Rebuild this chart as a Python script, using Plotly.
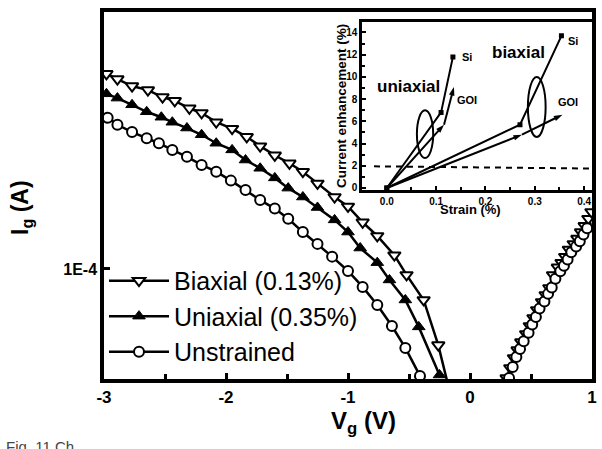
import plotly.graph_objects as go

# ---------------- main panel data: gate voltage (V) vs gate current (A) ----------------
biax_v = [-2.98, -2.89, -2.77, -2.64, -2.52, -2.42, -2.30, -2.20, -2.08, -1.95, -1.83, -1.72,
          -1.60, -1.48, -1.37, -1.25, -1.11, -1.00, -0.88, -0.76, -0.62, -0.52, -0.38, -0.26, -0.18]
biax_i = [3.40e-4, 3.29e-4, 3.15e-4, 3.07e-4, 2.94e-4, 2.87e-4, 2.74e-4, 2.66e-4, 2.51e-4, 2.41e-4,
          2.29e-4, 2.16e-4, 2.04e-4, 1.94e-4, 1.84e-4, 1.71e-4, 1.57e-4, 1.48e-4, 1.34e-4, 1.23e-4,
          1.09e-4, 9.63e-5, 8.23e-5, 6.20e-5, 4.83e-5]
biax_pos_v = [0.30, 0.33, 0.36, 0.39, 0.42, 0.46, 0.49, 0.52, 0.55, 0.59, 0.62, 0.65, 0.68, 0.72,
              0.75, 0.78, 0.81, 0.85, 0.88, 0.91, 0.94, 0.97, 0.995]
biax_pos_i = [5.04e-5, 5.37e-5, 5.72e-5, 6.01e-5, 6.32e-5, 6.65e-5, 6.99e-5, 7.35e-5, 7.73e-5,
              8.13e-5, 8.49e-5, 8.87e-5, 9.63e-5, 1.01e-4, 1.04e-4, 1.08e-4, 1.13e-4, 1.17e-4,
              1.21e-4, 1.26e-4, 1.31e-4, 1.37e-4, 1.43e-4]

uni_v = [-2.98, -2.89, -2.77, -2.65, -2.53, -2.44, -2.32, -2.20, -2.08, -1.95, -1.84, -1.72,
         -1.60, -1.49, -1.37, -1.25, -1.11, -1.00, -0.90, -0.76, -0.66, -0.53, -0.42, -0.25]
uni_i = [3.00e-4, 2.92e-4, 2.80e-4, 2.68e-4, 2.59e-4, 2.51e-4, 2.42e-4, 2.32e-4, 2.20e-4, 2.11e-4,
         1.98e-4, 1.88e-4, 1.77e-4, 1.66e-4, 1.57e-4, 1.47e-4, 1.36e-4, 1.26e-4, 1.14e-4, 1.04e-4,
         9.33e-5, 8.23e-5, 6.95e-5, 5.14e-5]

unst_v = [-2.97, -2.89, -2.77, -2.65, -2.55, -2.44, -2.32, -2.20, -2.08, -1.96, -1.84, -1.72,
          -1.60, -1.49, -1.37, -1.25, -1.13, -1.00, -0.88, -0.76, -0.64, -0.53, -0.41]
unst_i = [2.58e-4, 2.47e-4, 2.36e-4, 2.27e-4, 2.20e-4, 2.11e-4, 2.02e-4, 1.92e-4, 1.84e-4, 1.74e-4,
          1.64e-4, 1.54e-4, 1.46e-4, 1.37e-4, 1.26e-4, 1.17e-4, 1.08e-4, 9.87e-5, 8.93e-5, 7.97e-5,
          6.99e-5, 6.09e-5, 5.11e-5]
unst_pos_v = [0.32, 0.35, 0.38, 0.41, 0.44, 0.48, 0.51, 0.54, 0.57, 0.61, 0.64, 0.67, 0.70, 0.74,
              0.77, 0.80, 0.83, 0.87, 0.90, 0.93, 0.96]
unst_pos_i = [5.04e-5, 5.40e-5, 5.75e-5, 6.05e-5, 6.35e-5, 6.70e-5, 7.05e-5, 7.40e-5, 7.80e-5,
              8.15e-5, 8.55e-5, 8.90e-5, 9.40e-5, 9.85e-5, 1.02e-4, 1.06e-4, 1.11e-4, 1.15e-4,
              1.19e-4, 1.24e-4, 1.29e-4]

series_names = ["Biaxial (0.13%)", "Uniaxial (0.35%)", "Unstrained"]
x_ticks = [-3, -2, -1, 0, 1]
x_ticktext = ["-3", "-2", "-1", "0", "1"]
y_ticks = [1e-4]
y_ticktext = ["1E-4"]

# ---------------- inset data: strain (%) vs current enhancement (%) ----------------
uni_si_x = [0.0, 0.11, 0.134]
uni_si_y = [0.0, 6.8, 11.8]
uni_goi_x = [0.0, 0.116, 0.136]
uni_goi_y = [0.0, 5.7, 9.1]
bi_si_x = [0.0, 0.27, 0.354]
bi_si_y = [0.0, 5.7, 13.7]
bi_goi_x = [0.0, 0.274, 0.356]
bi_goi_y = [0.0, 4.8, 6.6]
ref_line_x = [-0.026, 0.416]
ref_line_y = [1.95, 1.75]
inset_x_ticks = [0.0, 0.1, 0.2, 0.3, 0.4]
inset_x_ticktext = ["0.0", "0.1", "0.2", "0.3", "0.4"]
inset_y_ticks = [0, 2, 4, 6, 8, 10, 12, 14]
# ellipses (x0, x1, y0, y1) in inset data units
uni_ellipse = [0.061, 0.094, 2.7, 7.0]
bi_ellipse = [0.286, 0.322, 4.6, 10.0]

FONT = "Liberation Sans, Arial, sans-serif"
fig = go.Figure()

def with_gap(a, b):
    return a + [None] + b

fig.add_trace(go.Scatter(
    x=with_gap(biax_v, biax_pos_v), y=with_gap(biax_i, biax_pos_i), name=series_names[0],
    mode="lines+markers", line=dict(color="black", width=2.5),
    marker=dict(symbol="triangle-down", size=11, color="white", line=dict(color="black", width=2))))
fig.add_trace(go.Scatter(
    x=uni_v, y=uni_i, name=series_names[1],
    mode="lines+markers", line=dict(color="black", width=2.5),
    marker=dict(symbol="triangle-up", size=11, color="black", line=dict(color="black", width=1))))
fig.add_trace(go.Scatter(
    x=with_gap(unst_v, unst_pos_v), y=with_gap(unst_i, unst_pos_i), name=series_names[2],
    mode="lines+markers", line=dict(color="black", width=2.5),
    marker=dict(symbol="circle", size=10, color="white", line=dict(color="black", width=2))))

# inset traces
sq = dict(symbol="square", size=5, color="black")
arr = dict(symbol="arrow", size=9, color="black", angleref="previous")
for xs, ys, mk in [(uni_si_x, uni_si_y, sq), (uni_goi_x, uni_goi_y, arr),
                   (bi_si_x, bi_si_y, sq), (bi_goi_x, bi_goi_y, arr)]:
    fig.add_trace(go.Scatter(x=xs, y=ys, xaxis="x2", yaxis="y2", mode="lines+markers",
                             line=dict(color="black", width=2), marker=mk, showlegend=False))
fig.add_trace(go.Scatter(x=ref_line_x, y=ref_line_y, xaxis="x2", yaxis="y2", mode="lines",
                         line=dict(color="black", width=2, dash="6px,5px"), showlegend=False))

for e in (uni_ellipse, bi_ellipse):
    fig.add_shape(type="circle", xref="x2", yref="y2", x0=e[0], x1=e[1], y0=e[2], y1=e[3],
                  line=dict(color="black", width=2))

bold = dict(family=FONT, color="black", weight="bold")
fig.update_layout(
    width=602, height=449, margin=dict(l=104, r=5, t=12, b=70),
    paper_bgcolor="white", plot_bgcolor="white",
    font=dict(family=FONT, color="black"),
    xaxis=dict(range=[-3, 1], showline=True, linewidth=3.5, linecolor="black", mirror=True,
               ticks="inside", ticklen=6, tickwidth=3, tickcolor="black",
               tickvals=x_ticks, ticktext=x_ticktext, tickfont=dict(size=17, **bold),
               minor=dict(ticks="inside", dtick=0.5, ticklen=5, tickwidth=3, tickcolor="black"),
               showgrid=False, zeroline=False),
    yaxis=dict(type="log", range=[-4.30, -3.30], showline=True, linewidth=3.5, linecolor="black",
               mirror=True, ticks="inside", ticklen=6, tickwidth=3, tickcolor="black",
               tickvals=y_ticks, ticktext=y_ticktext, tickfont=dict(size=16, **bold),
               showgrid=False, zeroline=False),
    xaxis2=dict(domain=[0.529, 1.0], anchor="y2", range=[-0.05, 0.416], showline=True,
                linewidth=2.5, linecolor="black", mirror=True, ticks="inside", ticklen=4,
                tickwidth=2, tickcolor="black", tickvals=inset_x_ticks, ticktext=inset_x_ticktext,
                tickfont=dict(size=10, **bold), showgrid=False, zeroline=False,
                minor=dict(ticks="inside", dtick=0.05, ticklen=3, tickwidth=2, tickcolor="black")),
    yaxis2=dict(domain=[0.515, 0.973], anchor="x2", range=[-0.18, 14.95], showline=True,
                linewidth=2.5, linecolor="black", mirror=True, ticks="inside", ticklen=4,
                tickwidth=2, tickcolor="black", tickvals=inset_y_ticks,
                tickfont=dict(size=10, **bold), showgrid=False, zeroline=False,
                minor=dict(ticks="inside", dtick=1, ticklen=3, tickwidth=2, tickcolor="black")),
    legend=dict(x=0.0, y=0.33, xanchor="left", yanchor="top", bgcolor="rgba(0,0,0,0)",
                font=dict(size=25, family=FONT, color="black"), tracegroupgap=0, itemwidth=60),
    showlegend=True,
)

ann = [
    dict(text="I<sub>g</sub> (A)", x=-0.168, y=0.466, xref="paper", yref="paper", textangle=-90,
         font=dict(size=23, **bold)),
    dict(text="V<sub>g</sub> (V)", x=0.531, y=-0.118, xref="paper", yref="paper",
         font=dict(size=24, **bold)),
    dict(text="Current enhancement (%)", x=0.488, y=0.744, xref="paper", yref="paper",
         textangle=-90, font=dict(size=13.5, **bold)),
    dict(text="Strain (%)", x=0.752, y=0.463, xref="paper", yref="paper",
         font=dict(size=13, **bold)),
    dict(text="uniaxial", x=0.044, y=9.1, xref="x2", yref="y2", font=dict(size=17, **bold)),
    dict(text="biaxial", x=0.266, y=12.2, xref="x2", yref="y2", font=dict(size=17, **bold)),
    dict(text="Si", x=0.162, y=11.8, xref="x2", yref="y2", font=dict(size=11, **bold)),
    dict(text="GOI", x=0.162, y=7.9, xref="x2", yref="y2", font=dict(size=11, **bold)),
    dict(text="Si", x=0.378, y=13.2, xref="x2", yref="y2", font=dict(size=11, **bold)),
    dict(text="GOI", x=0.368, y=7.7, xref="x2", yref="y2", font=dict(size=11, **bold)),
]
for a in ann:
    a.setdefault("showarrow", False)
    a.setdefault("xanchor", "center")
    a.setdefault("yanchor", "middle")
    fig.add_annotation(**a)
fig.add_annotation(text="Fig. 11 Ch", x=-0.205, y=-0.155, xref="paper", yref="paper",
                   xanchor="left", yanchor="top", showarrow=False,
                   font=dict(size=15, family=FONT, color="#444"))

fig.write_html("out.html")
